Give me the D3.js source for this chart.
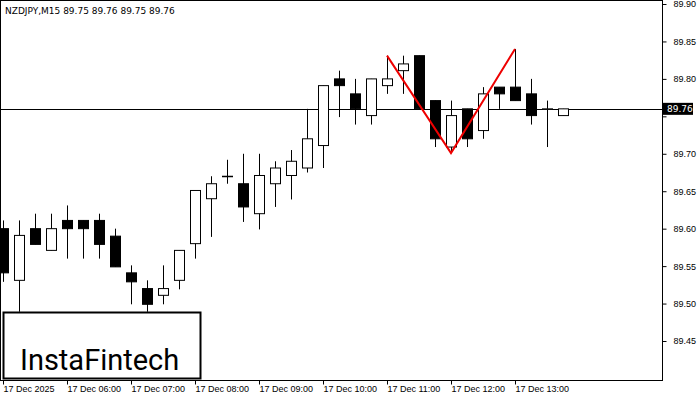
<!DOCTYPE html><html><head><meta charset="utf-8"><script src="https://cdn.jsdelivr.net/npm/d3@7"></script>
<style>body{margin:0;background:#fff}svg{font-family:"DejaVu Sans",sans-serif}</style></head><body><svg id="c" width="700" height="400"></svg>
<script>
const opens=[89.60,89.531,89.60,89.571,89.611,89.611,89.611,89.59,89.541,89.52,89.511,89.531,89.58,89.64,89.67,89.66,89.62,89.66,89.671,89.681,89.711,89.80,89.78,89.751,89.791,89.811,89.831,89.771,89.709,89.76,89.731,89.789,89.789,89.78,89.76,89.751];
const highs=[89.611,89.611,89.62,89.62,89.631,89.611,89.62,89.60,89.551,89.531,89.551,89.571,89.651,89.67,89.692,89.70,89.70,89.69,89.705,89.76,89.791,89.811,89.80,89.80,89.831,89.831,89.831,89.771,89.771,89.76,89.789,89.789,89.84,89.80,89.771,89.76];
const lows=[89.529,89.489,89.579,89.571,89.56,89.56,89.56,89.549,89.499,89.489,89.499,89.519,89.56,89.589,89.66,89.609,89.599,89.629,89.639,89.675,89.681,89.749,89.739,89.739,89.78,89.78,89.76,89.709,89.701,89.709,89.72,89.76,89.771,89.739,89.709,89.751];
const closes=[89.541,89.591,89.579,89.60,89.60,89.60,89.579,89.549,89.529,89.499,89.52,89.571,89.651,89.66,89.67,89.629,89.671,89.681,89.69,89.72,89.791,89.791,89.76,89.80,89.80,89.82,89.76,89.72,89.751,89.72,89.78,89.78,89.771,89.751,89.76,89.76];
const priceTicks=[89.45,89.50,89.55,89.60,89.65,89.70,89.75,89.80,89.85,89.90];
const timeLabels=["17 Dec 2025","17 Dec 06:00","17 Dec 07:00","17 Dec 08:00","17 Dec 09:00","17 Dec 10:00","17 Dec 11:00","17 Dec 12:00","17 Dec 13:00"];
const timeIdx=[0,4,8,12,16,20,24,28,32];
const pattern=[[24,89.831],[28,89.701],[32,89.84]];
const lastPrice=89.76;
const svg=d3.select("#c");
const x=d3.scaleLinear().domain([0,40]).range([3,643]);
const y=d3.scaleLinear().domain([89.45,89.90]).range([341,4]);
svg.append("rect").attr("x",0.5).attr("y",0.5).attr("width",662).attr("height",380).attr("fill","none").attr("stroke","#000");
const ya=svg.append("g").attr("transform","translate(662.5,0)").call(d3.axisRight(y).tickValues(priceTicks).tickFormat(d3.format(".2f")).tickSize(4));
ya.select(".domain").remove();
ya.selectAll("text").attr("font-size",9).attr("x",11).attr("fill","#000");
ya.selectAll(".tick").filter(d=>Math.abs(y(d)-y(lastPrice))<12).select("text").remove();
const xa=svg.append("g").attr("transform","translate(0,380.5)").call(d3.axisBottom(x).tickValues(timeIdx).tickFormat((d,i)=>timeLabels[i]).tickSize(4));
xa.select(".domain").remove();
xa.selectAll("text").attr("font-size",9).attr("text-anchor","start").attr("x",0).attr("dy","0.5em").attr("fill","#000");
svg.append("line").attr("x1",0).attr("x2",662).attr("y1",Math.round(y(lastPrice))+0.5).attr("y2",Math.round(y(lastPrice))+0.5).attr("stroke","#000");
const g=svg.append("g");
opens.forEach((o,i)=>{const c=closes[i],cx=Math.round(x(i))+0.5;
g.append("line").attr("x1",cx).attr("x2",cx).attr("y1",y(highs[i])).attr("y2",y(lows[i])).attr("stroke","#000");
const t=y(Math.max(o,c)),b=y(Math.min(o,c));
g.append("rect").attr("x",cx-5).attr("y",t).attr("width",10).attr("height",Math.max(b-t,0.5)).attr("fill",c<o?"#000":"#fff").attr("stroke","#000");});
svg.append("path").attr("d",d3.line().x(d=>x(d[0])).y(d=>y(d[1]))(pattern)).attr("fill","none").attr("stroke","#e00").attr("stroke-width",2);
const ly=y(lastPrice);
svg.append("rect").attr("x",663).attr("y",ly-6).attr("width",30).attr("height",12).attr("fill","#000");
svg.append("text").attr("x",667).attr("y",ly+3.5).attr("font-size",9).attr("fill","#fff").text("89.76");
svg.append("text").attr("x",5).attr("y",14).attr("font-size",9).text("NZDJPY,M15  89.75 89.76 89.75 89.76");
svg.append("rect").attr("x",3.5).attr("y",312.5).attr("width",197).attr("height",66).attr("fill","#fff").attr("stroke","#000").attr("stroke-width",2);
svg.append("text").attr("x",20).attr("y",370).attr("font-size",29).attr("font-family","Roboto,sans-serif").text("InstaFintech");
</script></body></html>
